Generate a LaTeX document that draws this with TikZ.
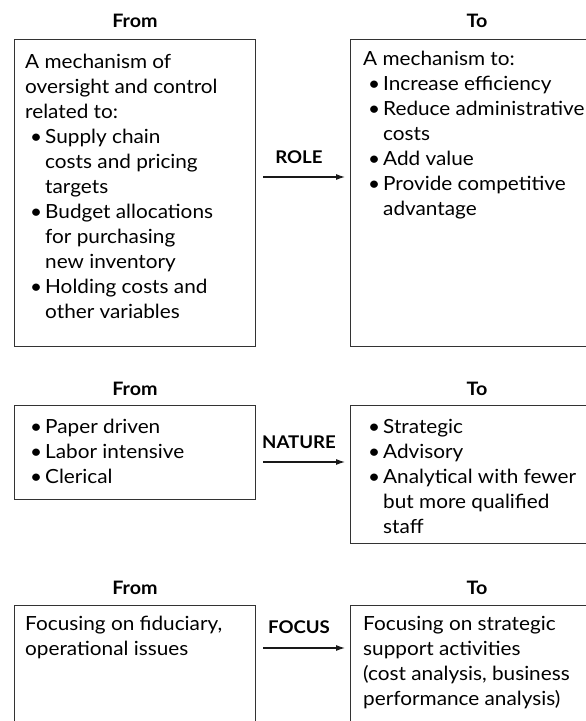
\documentclass[tikz,border=0pt]{standalone}
\usepackage{fontspec}
\setmainfont{Lato}[FakeStretch=1.065]
\usetikzlibrary{arrows.meta}
\newcommand\bitem[1]{\hspace*{5pt}\makebox[15pt][l]{\textbullet}#1}
\newcommand\bcont[1]{\hspace*{20pt}#1}
\newcommand\fl{\vrule width 0pt height 18pt\relax}
\begin{document}
\begin{tikzpicture}[x=1pt,y=-1pt,
  box/.style={draw=black!80,line width=1.1pt,anchor=north west,inner sep=0pt},
  body/.style={anchor=north west,align=left,inner sep=0pt,font=\fontsize{19.5}{25}\selectfont},
  head/.style={anchor=base,inner sep=0pt,font=\fontsize{18.5}{22}\selectfont\bfseries},
  lab/.style={anchor=base,inner sep=0pt,font=\fontsize{17.5}{20}\selectfont\bfseries},
  arr/.style={-{Latex[length=9pt,width=6pt]},line width=1.1pt,draw=black!90}]
\useasboundingbox (0,0) rectangle (586,721);
% section 1
\node[head] (hf1) at (135,27) {From};
\node[head] (ht1) at (477,27) {To};
\node[box,minimum width=241pt,minimum height=307pt] (f1) at (14,39) {};
\node[box,minimum width=270pt,minimum height=307pt] (t1) at (350,39) {};
\node[body] (f1txt) at (25,50) {\fl A mechanism of\\oversight and control\\related to:\\
\bitem{Supply chain}\\\bcont{costs and pricing}\\\bcont{targets}\\
\bitem{Budget allocations}\\\bcont{for purchasing}\\\bcont{new inventory}\\
\bitem{Holding costs and}\\\bcont{other variables}};
\node[body] (t1txt) at (363,47) {\fl A mechanism to:\\\bitem{Increase efficiency}\\
\bitem{Reduce administrative}\\\bcont{costs}\\\bitem{Add value}\\
\bitem{Provide competitive}\\\bcont{advantage}};
\node[lab] (role) at (299,163) {ROLE};
\coordinate (a1s) at (263,177);
\coordinate (a1e) at (345,177);
\draw[arr] (a1s) -- (a1e);
% section 2
\node[head] (hf2) at (135,395) {From};
\node[head] (ht2) at (477,395) {To};
\node[box,minimum width=241pt,minimum height=94pt] (f2) at (14,405) {};
\node[box,minimum width=270pt,minimum height=138pt] (t2) at (350,405) {};
\node[body] (f2txt) at (25,415) {\fl\bitem{Paper driven}\\\bitem{Labor intensive}\\\bitem{Clerical}};
\node[body] (t2txt) at (363,415) {\fl\bitem{Strategic}\\\bitem{Advisory}\\
\bitem{Analytical with fewer}\\\bcont{but more qualified}\\\bcont{staff}};
\node[lab] (nature) at (299,448) {NATURE};
\coordinate (a2s) at (263,462);
\coordinate (a2e) at (345,462);
\draw[arr] (a2s) -- (a2e);
% section 3
\node[head] (hf3) at (135,594) {From};
\node[head] (ht3) at (477,594) {To};
\node[box,minimum width=241pt,minimum height=160pt] (f3) at (14,605) {};
\node[box,minimum width=270pt,minimum height=160pt] (t3) at (350,605) {};
\node[body] (f3txt) at (25,612) {\fl Focusing on fiduciary,\\operational issues};
\node[body] (t3txt) at (363,612) {\fl Focusing on strategic\\support activities\\
(cost analysis, business\\performance analysis)};
\node[lab] (focus) at (299,633) {FOCUS};
\coordinate (a3s) at (263,648);
\coordinate (a3e) at (345,648);
\draw[arr] (a3s) -- (a3e);
\end{tikzpicture}
\end{document}
